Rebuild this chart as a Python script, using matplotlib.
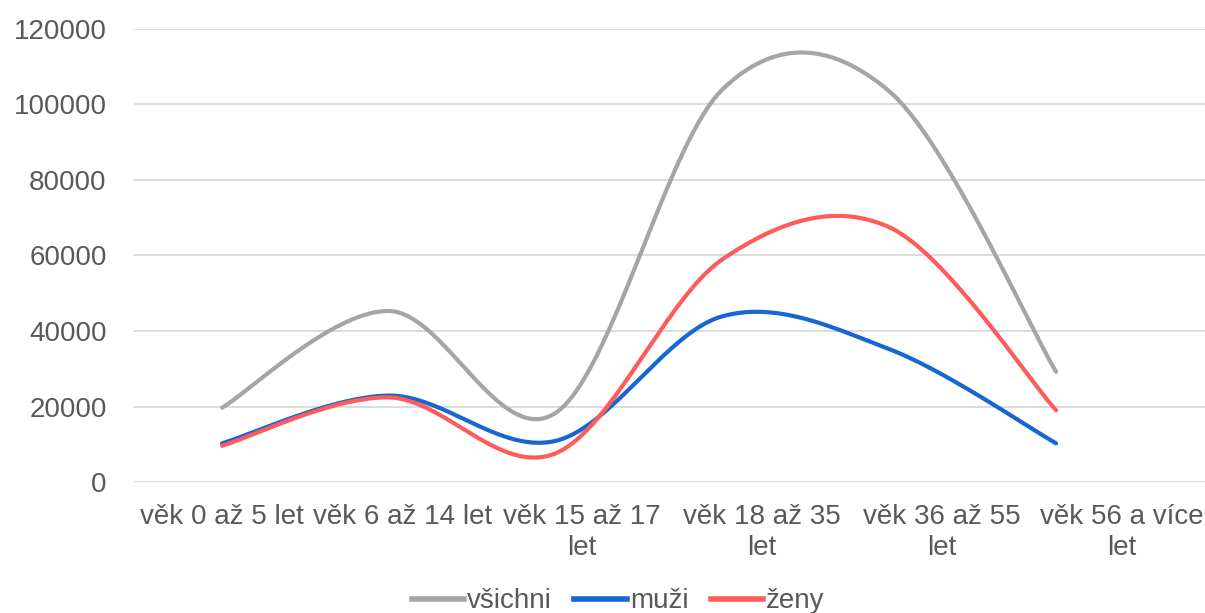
import numpy as np
import matplotlib.pyplot as plt
from matplotlib.lines import Line2D

kategorie = ["věk 0 až 5 let", "věk 6 až 14 let", "věk 15 až 17\nlet",
             "věk 18 až 35\nlet", "věk 36 až 55\nlet", "věk 56 a více\nlet"]
vsichni = [19700, 45300, 18300, 104000, 103500, 29200]
muzi = [10250, 22900, 10900, 43900, 35200, 10250]
zeny = [9600, 22400, 7600, 59000, 67500, 19000]

barvy = {"všichni": "#A5A5A5", "muži": "#1766D1", "ženy": "#FF5B5B"}
text_barva = "#595959"

plt.rcParams['font.family'] = ['Liberation Sans', 'DejaVu Sans']


def vyhladit(x, y, n=40):
    # Excel-like smoothing: Catmull-Rom via cubic Bezier segments
    x = np.asarray(x, float)
    y = np.asarray(y, float)
    p = np.column_stack([x, y])
    ext = np.vstack([p[0], p, p[-1]])
    t = np.linspace(0, 1, n)[:, None]
    out = []
    for i in range(len(p) - 1):
        p0, p1, p2, p3 = ext[i], ext[i + 1], ext[i + 2], ext[i + 3]
        c1 = p1 + (p2 - p0) / 6
        c2 = p2 - (p3 - p1) / 6
        seg = ((1 - t) ** 3) * p1 + 3 * ((1 - t) ** 2) * t * c1 \
            + 3 * (1 - t) * t ** 2 * c2 + t ** 3 * p2
        out.append(seg if i == 0 else seg[1:])
    out = np.vstack(out)
    return out[:, 0], out[:, 1]


fig = plt.figure(figsize=(12.05, 6.13), dpi=100)
ax = fig.add_axes([0.1104, 0.2137, 0.8896, 0.739])

x = np.arange(len(kategorie))
for nazev, hodnoty in [("všichni", vsichni), ("muži", muzi), ("ženy", zeny)]:
    xs, ys = vyhladit(x, hodnoty)
    ax.plot(xs, ys, color=barvy[nazev], lw=3, solid_capstyle='round', zorder=3)

ax.set_ylim(0, 120000)
ax.set_yticks(np.arange(0, 120001, 20000))
ax.set_xlim(-0.534, 5.893)
ax.set_xticks(x * 180 / 166.8)
ax.set_xticklabels(kategorie, linespacing=1.25)

ax.grid(axis='y', color='#D9D9D9', lw=1.3)
ax.set_axisbelow(True)
for s in ax.spines.values():
    s.set_visible(False)
ax.tick_params(axis='both', length=0, labelsize=20, colors=text_barva)
ax.tick_params(axis='y', pad=19)
ax.tick_params(axis='x', pad=16)

handles = [Line2D([], [], color=barvy[k], lw=4) for k in barvy]
fig.legend(handles, list(barvy.keys()), loc='center', bbox_to_anchor=(0.513, 0.019),
           ncol=3, frameon=False, fontsize=20, handlelength=1.9,
           handletextpad=0.1, columnspacing=0.8, labelcolor=text_barva)

fig.savefig("out.png", dpi=100)
